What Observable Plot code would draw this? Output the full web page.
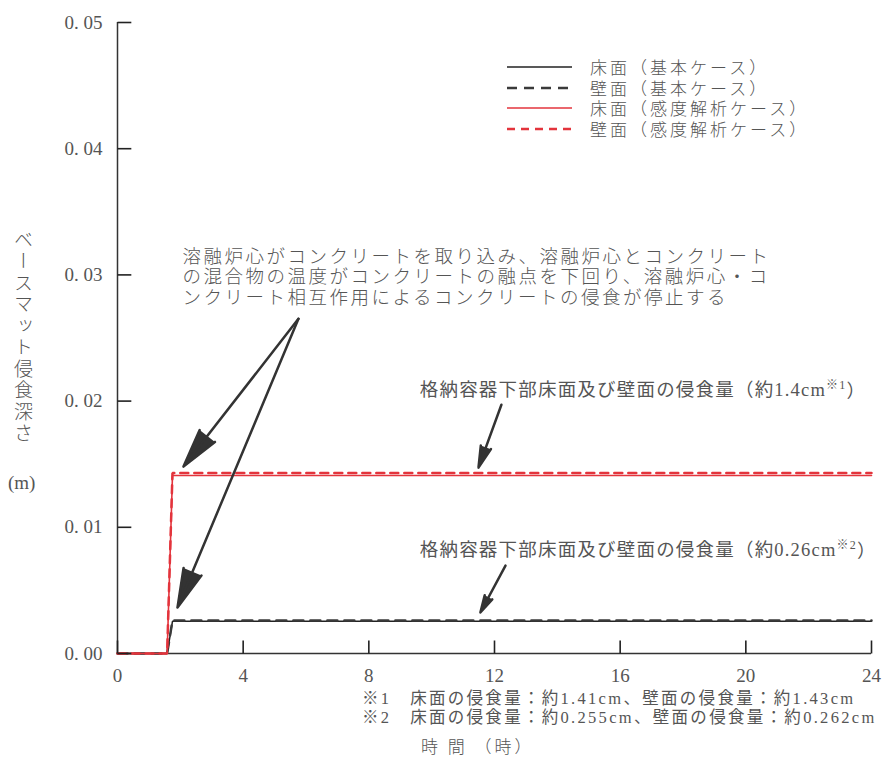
<!DOCTYPE html>
<html><head><meta charset="utf-8">
<script src="https://cdn.jsdelivr.net/npm/d3@7"></script>
<script src="https://cdn.jsdelivr.net/npm/@observablehq/plot@0.6"></script>
<style>
body{margin:0;background:#fff;font-family:"Liberation Serif","Noto Sans CJK JP",serif;color:#555}
#wrap{position:relative;width:890px;height:757px;overflow:hidden}
#ylab{position:absolute;left:10px;top:230px;writing-mode:vertical-rl;font-size:19px;letter-spacing:2.5px;color:#555;font-family:"Noto Sans CJK JP",sans-serif;font-weight:300}
#yunit{position:absolute;left:8px;top:472px;font-size:19px;color:#555}
#legend{position:absolute;left:500px;top:57px}
.lrow{height:20.5px;display:flex;align-items:center;overflow:visible}
.lrow svg{width:80px;height:20px;flex:none}
.lrow span{margin-left:10px;font-size:17px;letter-spacing:3px;font-family:"Noto Sans CJK JP",sans-serif;font-weight:300;color:#555;line-height:20px;height:20px;display:block;overflow:visible}
#notes{position:absolute;left:362px;top:690px;font-size:16.5px;letter-spacing:2.3px;line-height:18.5px;font-family:"Liberation Serif","Noto Sans CJK JP",serif;color:#555;white-space:nowrap}
#xlab{position:absolute;left:421px;top:733px;font-size:17px;letter-spacing:3px;color:#555;font-family:"Noto Sans CJK JP",sans-serif;font-weight:300}
</style></head><body><div id="wrap"></div>
<script>
// ---- data ----
const timeBaseFloor = [0, 1.58, 1.75, 24];
const depthBaseFloor = [0, 0, 0.00255, 0.00255];
const timeBaseWall = [0, 1.58, 1.75, 24];
const depthBaseWall = [0, 0, 0.00262, 0.00262];
const timeSensFloor = [0, 1.58, 1.75, 24];
const depthSensFloor = [0, 0, 0.0141, 0.0141];
const timeSensWall = [0, 1.58, 1.75, 24];
const depthSensWall = [0, 0, 0.0143, 0.0143];
const seriesNames = ["床面（基本ケース）", "壁面（基本ケース）", "床面（感度解析ケース）", "壁面（感度解析ケース）"];
const seriesColors = ["#222222", "#3a3a3a", "#e3343c", "#e3343c"];
const seriesDash = [null, "10,7", null, "8,6"];
const seriesWidth = [1.5, 2.5, 1.6, 2.5];
const xTicks = [0, 4, 8, 12, 16, 20, 24];
const yTicks = [0, 0.01, 0.02, 0.03, 0.04, 0.05];
const xLabel = "時 間 （時）";
const yLabel = "ベースマット侵食深さ";
const yUnit = "(m)";
const stopNote = ["溶融炉心がコンクリートを取り込み、溶融炉心とコンクリート",
                  "の混合物の温度がコンクリートの融点を下回り、溶融炉心・コ",
                  "ンクリート相互作用によるコンクリートの侵食が停止する"];
const labelSens = "格納容器下部床面及び壁面の侵食量（約1.4cm※1）";
const labelBase = "格納容器下部床面及び壁面の侵食量（約0.26cm※2）";
const footNotes = ["※1　床面の侵食量：約1.41cm、壁面の侵食量：約1.43cm",
                   "※2　床面の侵食量：約0.255cm、壁面の侵食量：約0.262cm"];
// annotation anchors (data units)
const stopNotePos = {x: 2.07, y: 0.02985};
const labelSensPos = {x: 9.62, y: 0.02085};
const labelBasePos = {x: 9.62, y: 0.00818};
const arrows = [
  {x1: 5.76, y1: 0.02652, x2: 2.10, y2: 0.01481},
  {x1: 5.76, y1: 0.02652, x2: 1.91, y2: 0.00364},
  {x1: 12.22, y1: 0.01971, x2: 11.49, y2: 0.01473},
  {x1: 12.35, y1: 0.00697, x2: 11.55, y2: 0.00325}
];
// inward tick lengths (data units)
const yTickLen = 0.44;
const xTickLen = 0.00103;

const series = [
  {t: timeBaseFloor, v: depthBaseFloor},
  {t: timeBaseWall, v: depthBaseWall},
  {t: timeSensFloor, v: depthSensFloor},
  {t: timeSensWall, v: depthSensWall}
];
const lineMarks = series.map((s, k) =>
  Plot.line(s.t.map((t, i) => ({t, v: s.v[i]})), {
    x: "t", y: "v", stroke: seriesColors[k], strokeWidth: seriesWidth[k],
    strokeDasharray: seriesDash[k] ?? undefined, strokeLinejoin: "miter"
  })
);
const yTickSegs = yTicks.map(v => ({x1: 0, x2: yTickLen, y1: v, y2: v}));
const xTickSegs = xTicks.map(t => ({x1: t, x2: t, y1: 0, y2: xTickLen}));

const chart = Plot.plot({
  width: 890, height: 690,
  marginLeft: 117, marginRight: 19, marginTop: 22, marginBottom: 37,
  x: {domain: [0, 24]},
  y: {domain: [0, 0.05]},
  style: {fontFamily: '"Liberation Serif","Noto Sans CJK JP",serif', fontSize: "19px", color: "#555", background: "white"},
  marks: [
    Plot.axisY(yTicks, {tickSize: 0, tickPadding: 15, fill: "#555", fontSize: 19, tickFormat: d => d.toFixed(2).replace(".", ". "), label: null}),
    Plot.axisX(xTicks, {tickSize: 0, tickPadding: 15, fill: "#555", fontSize: 19, tickFormat: d => String(d), label: null}),
    Plot.ruleX([0], {stroke: "#333", strokeWidth: 1.5}),
    Plot.ruleY([0], {stroke: "#333", strokeWidth: 1.5}),
    ...lineMarks,
    Plot.arrow(arrows, {x1: "x1", y1: "y1", x2: "x2", y2: "y2", stroke: "#333", fill: "#333", strokeWidth: 2.5, headLength: 24, headAngle: 28}),
    Plot.text([stopNote.join("\n")], {x: stopNotePos.x, y: stopNotePos.y, textAnchor: "start", lineAnchor: "middle", lineHeight: 1.12, fontSize: 18.5, fill: "#555", fontFamily: '"Noto Sans CJK JP",sans-serif', fontWeight: 300}),
    Plot.text([labelSens], {x: labelSensPos.x, y: labelSensPos.y, textAnchor: "start", lineAnchor: "middle", fontSize: 18.5, fill: "#555"}),
    Plot.text([labelBase], {x: labelBasePos.x, y: labelBasePos.y, textAnchor: "start", lineAnchor: "middle", fontSize: 18.5, fill: "#555"}),
    Plot.link(yTickSegs, {x1: "x1", x2: "x2", y1: "y1", y2: "y2", stroke: "#222", strokeWidth: 1.6}),
    Plot.link(xTickSegs, {x1: "x1", x2: "x2", y1: "y1", y2: "y2", stroke: "#222", strokeWidth: 1.6})
  ]
});

// post-process: letter spacing of texts, superscripts in labels
d3.select(chart).selectAll("text").each(function () {
  const txt = this.textContent;
  if (stopNote.some(s => txt.includes(s.slice(0, 6)))) d3.select(this).attr("letter-spacing", 2.5);
  const m = txt.match(/^(.*)(※\d)(）)$/);
  if (m && this.children.length === 0) {
    const sel = d3.select(this).text(null).attr("letter-spacing", 1.2);
    sel.append("tspan").text(m[1]);
    sel.append("tspan").attr("font-size", 12).attr("dy", "-0.6em").text(m[2]);
    sel.append("tspan").attr("dy", "0.45em").text(m[3]);
  }
});

const wrap = document.getElementById("wrap");
wrap.appendChild(chart);

const yl = document.createElement("div"); yl.id = "ylab"; yl.textContent = yLabel; wrap.appendChild(yl);
const yu = document.createElement("div"); yu.id = "yunit"; yu.textContent = yUnit; wrap.appendChild(yu);
const lg = document.createElement("div"); lg.id = "legend";
seriesNames.forEach((name, k) => {
  const row = document.createElement("div"); row.className = "lrow";
  row.innerHTML = `<svg><line x1="7" x2="72" y1="10" y2="10" stroke="${seriesColors[k]}" stroke-width="${seriesWidth[k]}" ${seriesDash[k] ? `stroke-dasharray="${seriesDash[k]}"` : ""}/></svg>`;
  const sp = document.createElement("span"); sp.textContent = name; row.appendChild(sp);
  lg.appendChild(row);
});
wrap.appendChild(lg);
const nt = document.createElement("div"); nt.id = "notes";
footNotes.forEach(f => { const d = document.createElement("div"); d.textContent = f; nt.appendChild(d); });
wrap.appendChild(nt);
const xl = document.createElement("div"); xl.id = "xlab"; xl.textContent = xLabel; wrap.appendChild(xl);
</script></body></html>
